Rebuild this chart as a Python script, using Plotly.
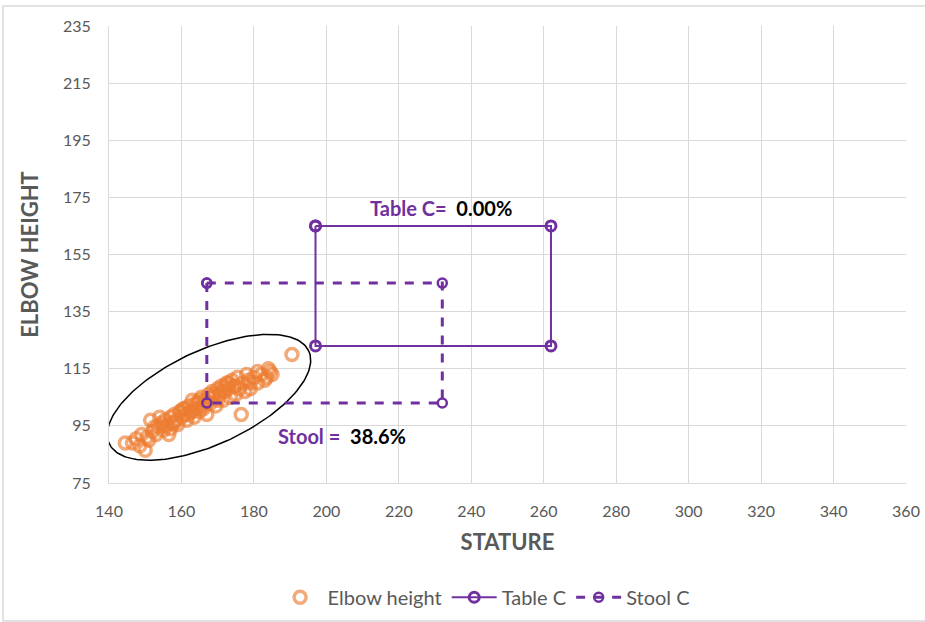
import numpy as np
import plotly.graph_objects as go

# ---- data ----
stature = [144.5, 146.5, 147.5, 148.5, 149, 150, 150.5, 151, 151.5, 152, 152.5, 153, 153.5, 154,
           154.5, 155, 155.5, 156, 156.5, 157, 157.5, 158, 158.5, 159, 159.5, 160, 160.5, 161,
           161.5, 162, 162.5, 163, 163.5, 164, 164.5, 165, 165.5, 166, 166.5, 167, 167.5, 168,
           168.5, 169, 169.5, 170, 170.5, 171, 171.5, 172, 172.5, 173, 173.5, 174, 174.5, 175,
           175.5, 176, 176.5, 177, 177.5, 178, 178.5, 179, 180, 181, 182, 183, 184, 185, 190.5,
           158, 160, 162, 164, 166, 168, 170, 172, 155, 157, 161, 163, 165, 167, 169, 171, 173,
           175, 179, 181, 184.5, 183.5]
elbow = [89, 89, 90.5, 88, 92, 86.5, 91, 90, 97, 93, 94.5, 92, 95, 98,
         96, 93.5, 97, 95, 92, 98, 96, 99, 97, 95.5, 100, 98, 101, 99,
         97, 102, 100, 104, 98, 101, 103, 100, 105, 102, 104, 99, 106, 103,
         107, 105, 102, 108, 106, 109, 104, 107, 110, 108, 105, 111, 109, 106,
         112, 108, 99, 110, 107, 113, 111, 108, 112, 110, 113, 111, 115, 113, 120,
         96, 100, 99, 103, 101, 105, 104, 109, 95, 94, 101, 100, 104, 103, 106, 107, 110,
         109, 110, 114, 114, 112]

table_x = [197, 262, 262, 197, 197]
table_y = [165, 165, 123, 123, 165]
stool_x = [167, 232, 232, 167, 167]
stool_y = [145, 145, 103, 103, 145]

x_ticks = list(range(140, 361, 20))
y_ticks = list(range(75, 236, 20))

# ellipse parameters (center in data units, radii in screen px, tilt in degrees)
ell_center = (167.6, 105.0)
ell_a, ell_b, ell_tilt = 110.0, 47.0, 24.9
px_per_x, px_per_y = 797 / 220, 457 / 160

PURPLE = "#7030A0"
GRAY = "#595959"
FONT = "Lato"

t = np.linspace(0, 2 * np.pi, 200)
phi = np.radians(ell_tilt)
u = ell_a * np.cos(t) * np.cos(phi) - ell_b * np.sin(t) * np.sin(phi)
v = ell_a * np.cos(t) * np.sin(phi) + ell_b * np.sin(t) * np.cos(phi)
ex = ell_center[0] + u / px_per_x
ey = ell_center[1] + v / px_per_y

fig = go.Figure()
fig.add_trace(go.Scatter(x=ex, y=ey, mode="lines", line=dict(color="black", width=1.5),
                         showlegend=False, hoverinfo="skip"))
fig.add_trace(go.Scatter(x=stature, y=elbow, mode="markers", name="Elbow height",
                         marker=dict(symbol="circle-open", size=12,
                                     color="rgba(237,125,49,0.65)",
                                     line=dict(width=3.5, color="rgba(237,125,49,0.65)"))))
fig.add_trace(go.Scatter(x=table_x, y=table_y, mode="lines+markers", name="Table C",
                         line=dict(color=PURPLE, width=2),
                         marker=dict(symbol="circle-open", size=10, color=PURPLE,
                                     line=dict(width=3, color=PURPLE))))
fig.add_trace(go.Scatter(x=stool_x, y=stool_y, mode="lines+markers", name="Stool C",
                         line=dict(color=PURPLE, width=3, dash="dash"),
                         marker=dict(symbol="circle-open", size=9, color=PURPLE,
                                     line=dict(width=2.5, color=PURPLE))))

fig.add_annotation(x=211.5, y=171.2, xanchor="left", yanchor="middle", showarrow=False,
                   text=f"<b><span style='color:{PURPLE}'>Table C=</span>  0.00%</b>",
                   font=dict(family=FONT, size=20, color="black"))
fig.add_annotation(x=186, y=91.4, xanchor="left", yanchor="middle", showarrow=False,
                   text=f"<b><span style='color:{PURPLE}'>Stool =</span>  38.6%</b>",
                   font=dict(family=FONT, size=20, color="black"))

fig.add_shape(type="rect", xref="paper", yref="paper",
              x0=-0.133, x1=1.025, y0=-0.302, y1=1.044,
              line=dict(color="#D9D9D9", width=1.5))

axis_common = dict(showgrid=True, gridcolor="#D9D9D9", gridwidth=1, zeroline=False,
                   ticks="", automargin=False, tickfont=dict(family=FONT, size=16, color=GRAY))
fig.update_xaxes(range=[140, 360], tickvals=x_ticks, ticklabelstandoff=14,
                 title=dict(text="<b>STATURE</b>", font=dict(family=FONT, size=22, color=GRAY),
                            standoff=15),
                 showline=True, linecolor="#D9D9D9", **axis_common)
fig.update_yaxes(range=[75, 235], tickvals=y_ticks, ticklabelstandoff=14,
                 title=dict(text="<b>ELBOW HEIGHT</b>", font=dict(family=FONT, size=22, color=GRAY),
                            standoff=18),
                 showline=True, linecolor="#D9D9D9", **axis_common)

fig.update_layout(
    width=925, height=622,
    margin=dict(l=109, r=19, t=26, b=139, autoexpand=False),
    plot_bgcolor="white", paper_bgcolor="white",
    font=dict(family=FONT, color=GRAY),
    legend=dict(orientation="h", x=0.47, xanchor="center", y=-0.25, yanchor="middle",
                itemwidth=45,
                font=dict(family=FONT, size=20, color=GRAY)),
)

fig.write_html("out.html")
